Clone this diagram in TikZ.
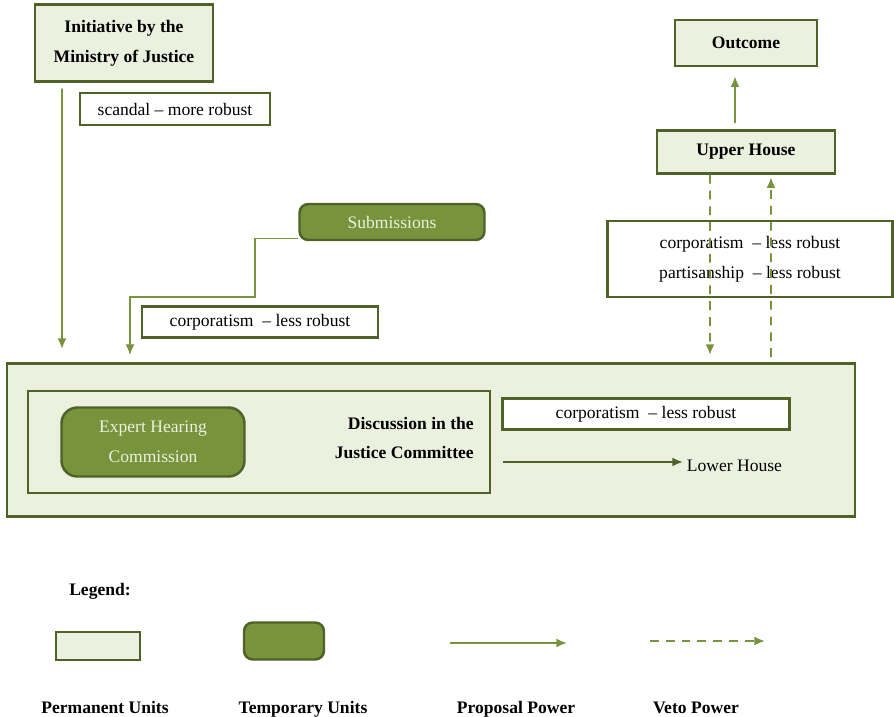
\documentclass[tikz,border=0pt]{standalone}
\usepackage{fontspec}
\setmainfont{Liberation Serif}
\usetikzlibrary{arrows.meta,positioning,calc}

\definecolor{darkolive}{HTML}{4F6228}
\definecolor{paleolive}{HTML}{EBF1DE}
\definecolor{olive}{HTML}{77933C}

\begin{document}
\begin{tikzpicture}[
    x=0.02cm, y=-0.02cm, % one unit = one pixel of the sketch
    font=\fontsize{10}{17}\selectfont,
    >={Latex[length=6pt,width=5pt]},
    % styles
    perm/.style={
        draw=darkolive,
        line width=1.4pt,
        fill=paleolive,
        align=center,
        inner sep=0pt,
        font=\fontsize{10}{17}\selectfont\bfseries
    },
    temp/.style={
        draw=darkolive,
        line width=1.4pt,
        fill=olive,
        rounded corners=5pt,
        text=paleolive,
        align=center,
        inner sep=0pt
    },
    note/.style={
        draw=darkolive,
        line width=1.4pt,
        fill=white,
        align=center,
        inner sep=0pt
    },
    prop/.style={->, olive, line width=1.1pt},
    veto/.style={->, olive, line width=1.1pt, dash pattern=on 5pt off 4pt},
    caption/.style={font=\fontsize{10}{17}\selectfont\bfseries}
]
    \useasboundingbox (0,0) rectangle (894,717);

    % --- 1. Ministry (top left) ---
    \node[perm, minimum width=3.56cm, minimum height=1.54cm] (init) at (124,43)
        {Initiative by the\\Ministry of Justice};
    \node[note, minimum width=3.8cm, minimum height=0.64cm] (scandal) at (175,109)
        {scandal -- more robust};

    % --- 2. Submissions ---
    \node[temp, minimum width=3.7cm, minimum height=0.72cm] (subm) at (392,222) {Submissions};
    \node[note, minimum width=4.72cm, minimum height=0.62cm] (corpA) at (260,322)
        {corporatism \ -- less robust};

    % --- 3. Lower chamber (big box) ---
    \node[perm, minimum width=16.96cm, minimum height=3.06cm] (chamber) at (431,440) {};
    \node[draw=darkolive, line width=1.4pt, minimum width=9.24cm, minimum height=2.04cm] (committee) at (259,442) {};
    \node[temp, rounded corners=9pt, minimum width=3.66cm, minimum height=1.38cm] (expert) at (153,442)
        {Expert Hearing\\Commission};
    \node[caption, align=right, anchor=east] (discussion) at (480,438)
        {Discussion in the\\Justice Committee};
    \node[note, minimum width=5.74cm, minimum height=0.62cm] (corpB) at (646,414)
        {corporatism \ -- less robust};
    \node[anchor=west, inner sep=2pt] (lower) at (683,466) {Lower House};
    \coordinate (lowstart) at (503,462);

    % --- 4. Upper House & Outcome (top right) ---
    \node[perm, minimum width=2.84cm, minimum height=0.92cm] (outcome) at (746,43) {Outcome};
    \node[perm, minimum width=3.56cm, minimum height=0.86cm] (upper) at (746,152) {Upper House};
    \node[note, minimum width=5.7cm, minimum height=1.52cm] (corpC) at (750,259)
        {corporatism \ -- less robust\\partisanship \ -- less robust};

    % --- 5. Arrows ---
    \coordinate (initend) at (62,349);
    \coordinate (submend) at (130,355);
    \coordinate (vetodown) at (710,355);
    \coordinate (vetoup) at (771,357);

    \draw[prop] ([xshift=-1.24cm,yshift=-0.12cm]init.south) -- (initend);
    \draw[prop, line width=0.6pt] ([yshift=0.05cm]subm.south west) -| (255,297) -| (submend);
    \draw[prop, darkolive] (lowstart) -- (lowstart -| lower.west);
    \draw[prop] ([xshift=-0.22cm,yshift=0.12cm]upper.north) -- ([xshift=-0.22cm,yshift=-0.18cm]outcome.south);
    \draw[veto] ([xshift=-0.72cm]upper.south) -- (vetodown);
    \draw[veto] (vetoup) -- ([xshift=0.5cm,yshift=-0.05cm]upper.south);

    % --- 6. Legend ---
    \node[caption] (legend) at (100,591) {Legend:};
    \node[perm, minimum width=1.68cm, minimum height=0.56cm] (legperm) at (98,646) {};
    \node[temp, minimum width=1.6cm, minimum height=0.74cm] (legtemp) at (284,641) {};
    \coordinate (legPa) at (450,643);
    \coordinate (legPb) at (567,643);
    \coordinate (legVa) at (650,641);
    \coordinate (legVb) at (765,641);
    \draw[prop] (legPa) -- (legPb);
    \draw[veto] (legVa) -- (legVb);

    \node[caption, anchor=base] (permtxt) at (105,713) {Permanent Units};
    \node[caption, anchor=base] (temptxt) at (303,713) {Temporary Units};
    \node[caption, anchor=base] (proptxt) at (516,713) {Proposal Power};
    \node[caption, anchor=base] (vetotxt) at (696,713) {Veto Power};

\end{tikzpicture}
\end{document}
